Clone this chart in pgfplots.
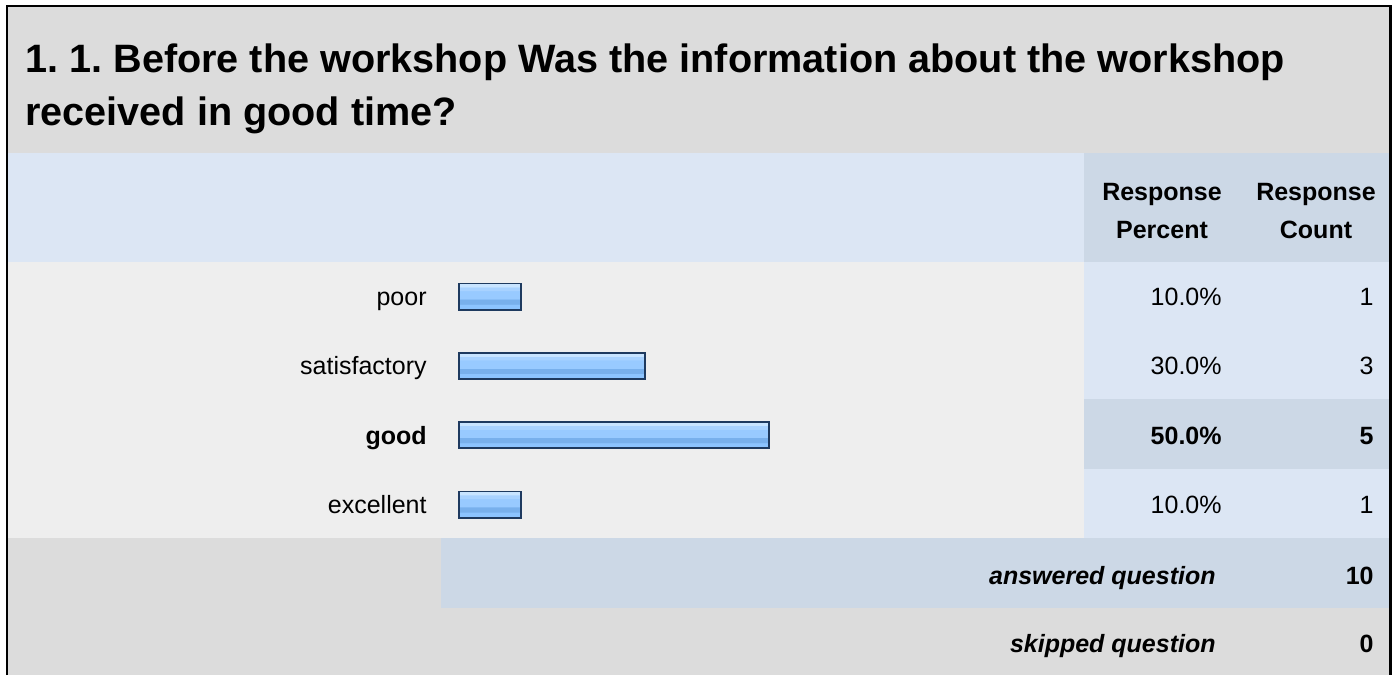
\documentclass[border=0pt]{standalone}
\usepackage{pgfplots}
\pgfplotsset{compat=1.18}
\usepackage{fontspec}
\setmainfont{Liberation Sans}
\definecolor{titlegray}{HTML}{DCDCDC}
\definecolor{rowgray}{HTML}{EEEEEE}
\definecolor{hdrblue}{HTML}{DCE6F4}
\definecolor{colblue}{HTML}{CCD8E6}
\definecolor{cellblue}{HTML}{DCE6F4}
\definecolor{barline}{HTML}{1E3A5F}
\definecolor{b0}{HTML}{8CC4FF}
\definecolor{b1}{HTML}{78B0EC}
\definecolor{b3}{HTML}{98CAFF}
\definecolor{b4}{HTML}{A8D2FF}
\definecolor{b5}{HTML}{C8E4FF}
\pgfdeclareverticalshading{barshade}{100bp}{color(0bp)=(b0); color(25bp)=(b0); color(35bp)=(b0); color(36bp)=(b1); color(45bp)=(b1); color(46bp)=(b3); color(61bp)=(b3); color(62bp)=(b4); color(68bp)=(b4); color(69bp)=(b5); color(100bp)=(b5)}
\pgfplotsset{mybar/.style={xbar, bar width=0.378, bar shift=0pt, draw=barline, line width=0.9pt, shading=barshade}}
\newcommand{\bt}{\fontsize{12.5}{15}\selectfont}
\begin{document}
\frenchspacing
\begin{tikzpicture}
\begin{scope}[x=0.5pt,y=-0.5pt]
\fill[white] (0,0) rectangle (1396,675);
\fill[titlegray] (8,7) rectangle (1390,675);
\fill[hdrblue] (8,153) rectangle (1084,262);
\fill[colblue] (1084,153) rectangle (1390,262);
\fill[rowgray] (8,262) rectangle (1084,538);
\fill[cellblue] (1084,262) rectangle (1390,538);
\fill[colblue] (1084,399) rectangle (1390,469);
\fill[colblue] (441,538) rectangle (1390,608);
\draw[black,line width=1.4pt] (7,675) -- (7,6) -- (1390.5,6) -- (1390.5,675);
% title
\node[anchor=base west,inner sep=0pt,font=\fontsize{19.8}{24}\selectfont\bfseries] at (25,72) {1. 1. Before the workshop Was the information about the workshop};
\node[anchor=base west,inner sep=0pt,font=\fontsize{19.8}{24}\selectfont\bfseries] at (25,125) {received in good time?};
% headers
\node[anchor=base,inner sep=0pt,font=\bt\bfseries] at (1162,200) {Response};
\node[anchor=base,inner sep=0pt,font=\bt\bfseries] at (1162,238) {Percent};
\node[anchor=base,inner sep=0pt,font=\bt\bfseries] at (1316,200) {Response};
\node[anchor=base,inner sep=0pt,font=\bt\bfseries] at (1316,238) {Count};
% values
\foreach \y/\p/\c in {305/10.0\%/1, 374/30.0\%/3, 513/10.0\%/1}{
  \node[anchor=base east,inner sep=0pt,font=\bt] at (1222,\y) {\p};
  \node[anchor=base east,inner sep=0pt,font=\bt] at (1374,\y) {\c};
}
\node[anchor=base east,inner sep=0pt,font=\bt\bfseries] at (1222,444) {50.0\%};
\node[anchor=base east,inner sep=0pt,font=\bt\bfseries] at (1374,444) {5};
\node[anchor=base east,inner sep=0pt,font=\bt\bfseries\itshape] at (1216,584) {answered question};
\node[anchor=base east,inner sep=0pt,font=\bt\bfseries] at (1374,584) {10};
\node[anchor=base east,inner sep=0pt,font=\bt\bfseries\itshape] at (1216,652) {skipped question};
\node[anchor=base east,inner sep=0pt,font=\bt\bfseries] at (1374,652) {0};
\end{scope}
\begin{axis}[
  at={(229.5pt,-131pt)}, anchor=north west,
  scale only axis, width=310pt, height=138.6pt,
  xmin=0, xmax=100, ymin=0.5, ymax=4.5, y dir=reverse,
  axis line style={draw=none}, major tick length=0pt,
  xtick=\empty, ytick={1,2,3,4},
  yticklabels={poor,satisfactory,\textbf{good},excellent},
  yticklabel style={font=\bt, anchor=base east, inner sep=0pt, xshift=-16pt, yshift=-4.5pt},
  clip=false,
]
\addplot[mybar] coordinates {(10,1)};
\addplot[mybar] coordinates {(30,2)};
\addplot[mybar] coordinates {(50,3)};
\addplot[mybar] coordinates {(10,4)};
\end{axis}
\end{tikzpicture}
\end{document}
